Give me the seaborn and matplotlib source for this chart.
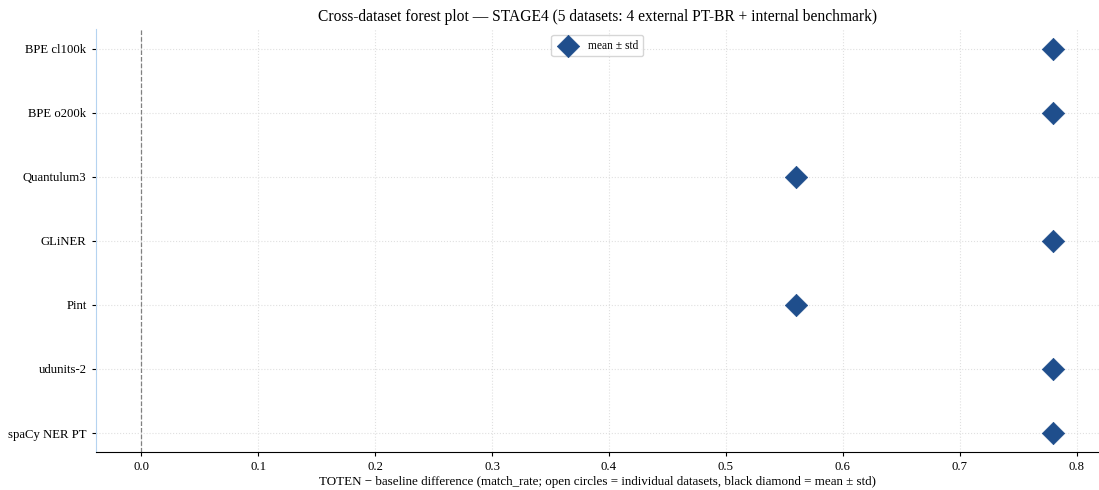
import matplotlib
matplotlib.use("Agg")
import matplotlib.pyplot as plt
import seaborn as sns
import pandas as pd

models = ["BPE cl100k", "BPE o200k", "Quantulum3", "GLiNER", "Pint", "udunits-2", "spaCy NER PT"]
mean_diff = [0.78, 0.78, 0.56, 0.78, 0.56, 0.78, 0.78]
std_diff = [0.0, 0.0, 0.0, 0.0, 0.0, 0.0, 0.0]

df = pd.DataFrame({"model": models, "mean": mean_diff, "std": std_diff})

sns.set_style("white")
plt.rcParams["font.family"] = ["Liberation Serif", "DejaVu Serif"]
plt.rcParams["text.color"] = "black"
plt.rcParams["axes.labelcolor"] = "black"
plt.rcParams["xtick.color"] = "black"
plt.rcParams["ytick.color"] = "black"

fig, ax = plt.subplots(figsize=(10.99, 4.9), dpi=100)

ypos = list(range(len(models)))
ax.errorbar(df["mean"], ypos, xerr=df["std"], fmt="none", ecolor="#1f4e8c", capsize=3)
sns.scatterplot(x=df["mean"], y=ypos, marker="D", s=130, color="#1f4e8c",
                edgecolor="#1f4e8c", linewidth=0.5, label="mean ± std", ax=ax, zorder=3)
ax.axvline(0, color="gray", linestyle="--", linewidth=0.9)

ax.set_yticks(ypos)
ax.set_yticklabels(models)
ax.invert_yaxis()

ax.grid(True, linestyle=":", color="#e0e0e0", linewidth=0.8)
ax.set_axisbelow(True)
for s in ["top", "right"]:
    ax.spines[s].set_visible(False)
ax.spines["left"].set_color("#b5d3f0")
ax.spines["bottom"].set_color("black")
ax.tick_params(axis="both", which="both", length=3, color="black", labelsize=9.2, left=True, bottom=True)

ax.set_title("Cross-dataset forest plot — STAGE4 (5 datasets: 4 external PT-BR + internal benchmark)", fontsize=11.2)
ax.set_xlabel("TOTEN − baseline difference (match_rate; open circles = individual datasets, black diamond = mean ± std)",
              fontsize=9.4, labelpad=2)
ax.set_ylabel("")
ax.legend(loc="upper center", fontsize=8.3, frameon=True, markerscale=1.0)

fig.subplots_adjust(left=0.087, right=1.0, top=0.94, bottom=0.077)
fig.savefig("out.png", dpi=100)
